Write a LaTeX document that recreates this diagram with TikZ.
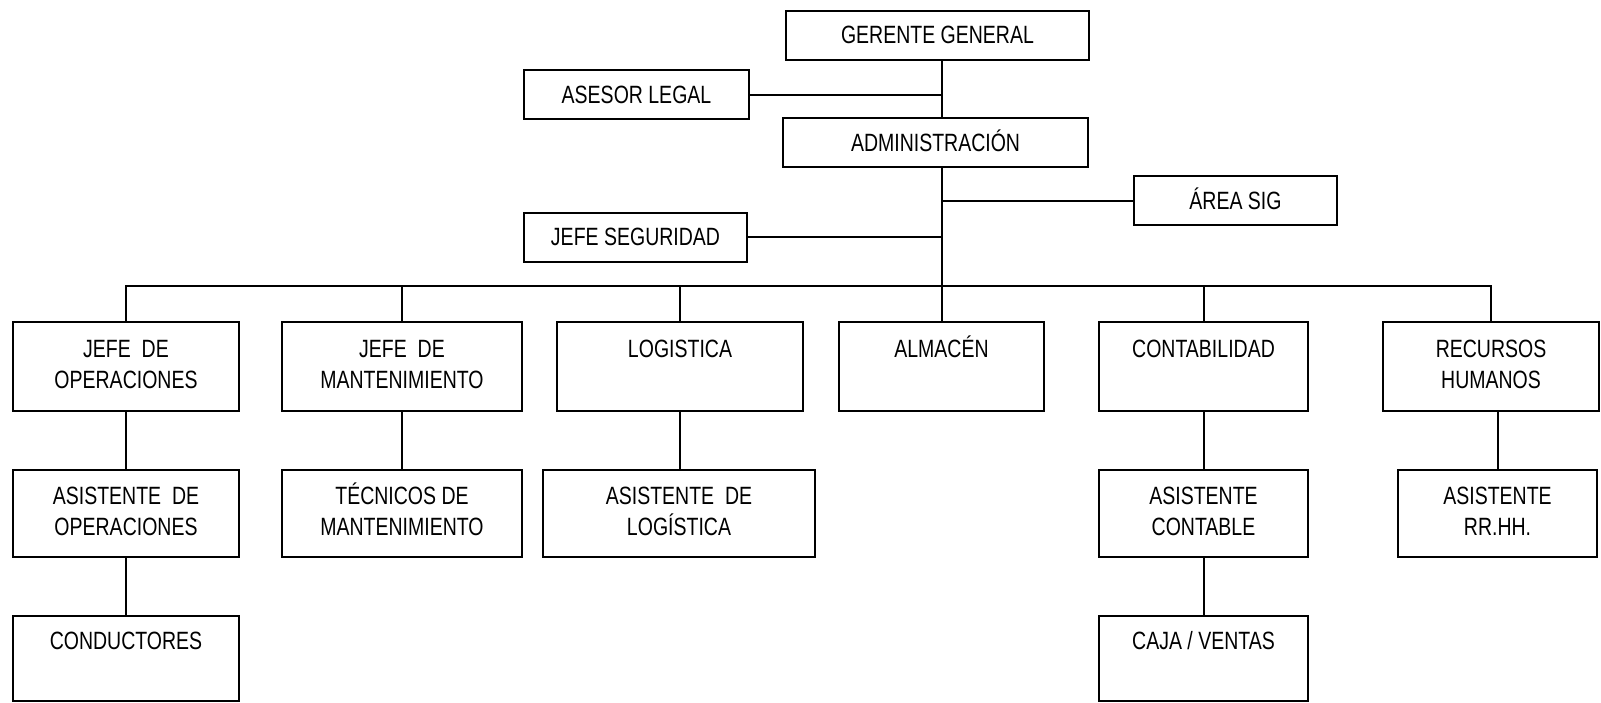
\documentclass[tikz,border=0pt]{standalone}
\usepackage{fontspec}
\setmainfont{Liberation Sans}[FakeStretch=0.78]
\usepackage{tikz}

\begin{document}
\begin{tikzpicture}[x=1pt, y=-1pt, line width=2pt,
    font={\fontsize{25}{31}\selectfont},
    jefe/.style={draw, minimum width=#1, minimum height=49pt, inner sep=0pt,
        text height=17pt, text depth=0pt},
    area/.style 2 args={draw, minimum width=#1, minimum height=#2, inner sep=0pt,
        align=center}]
    % Fondo
    \fill[white] (0,0) rectangle (1601,702);
    \useasboundingbox (0,0) rectangle (1601,702);

    % Gerencia y staff
    \node[jefe=303pt] (gg) at (937.5,35) {GERENTE GENERAL};
    \node[jefe=225pt] (asesor) at (636.5,94.5) {ASESOR LEGAL};
    \node[jefe=305pt] (adm) at (935.5,142.5) {ADMINISTRACIÓN};
    \node[jefe=203pt] (sig) at (1235.5,200.5) {ÁREA SIG};
    \node[jefe=223pt] (seg) at (635.5,237) {JEFE SEGURIDAD};

    % Primer nivel
    \node[area={226pt}{89pt}] (op) at (126,366.5) {\strut JEFE~ DE\\\strut OPERACIONES};
    \node[area={240pt}{89pt}] (mant) at (402,366.5) {\strut JEFE~ DE\\\strut MANTENIMIENTO};
    \node[area={246pt}{89pt}] (log) at (680,366.5) {\strut LOGISTICA\\\strut};
    \node[area={205pt}{89pt}] (alm) at (941.5,366.5) {\strut ALMACÉN\\\strut};
    \node[area={209pt}{89pt}] (cont) at (1203.5,366.5) {\strut CONTABILIDAD\\\strut};
    \node[area={216pt}{89pt}] (rh) at (1491,366.5) {\strut RECURSOS\\\strut HUMANOS};

    % Segundo nivel
    \node[area={226pt}{87pt}] (aop) at (126,513.5) {\strut ASISTENTE~ DE\\\strut OPERACIONES};
    \node[area={240pt}{87pt}] (tec) at (402,513.5) {\strut TÉCNICOS DE\\\strut MANTENIMIENTO};
    \node[area={272pt}{87pt}] (alog) at (679,513.5) {\strut ASISTENTE~ DE\\\strut LOGÍSTICA};
    \node[area={209pt}{87pt}] (acont) at (1203.5,513.5) {\strut ASISTENTE\\\strut CONTABLE};
    \node[area={199pt}{87pt}] (arh) at (1497.5,513.5) {\strut ASISTENTE\\\strut RR.HH.};

    % Tercer nivel
    \node[area={226pt}{85pt}] (cond) at (126,658.5) {\strut CONDUCTORES\\\strut};
    \node[area={209pt}{85pt}] (caja) at (1203.5,658.5) {\strut CAJA / VENTAS\\\strut};

    % Linea principal
    \draw (gg.south -| alm.north) -- (adm.north -| alm.north);
    \draw (adm.south -| alm.north) -- (alm.north);
    \draw (asesor.east) -- (asesor.east -| alm.north);
    \draw (sig.west) -- (sig.west -| alm.north);
    \draw (seg.east) -- (seg.east -| alm.north);

    % Barra de areas
    \coordinate (bus) at (0,286);
    \draw (op.north) |- (rh.north |- bus) -- (rh.north);
    \foreach \n in {mant,log,cont}
        \draw (\n.north) -- (\n.north |- bus);

    % Dependencias
    \draw (op.south) -- (aop.north);
    \draw (aop.south) -- (cond.north);
    \draw (mant.south) -- (tec.north);
    \draw (log.south) -- (alog.north -| log.south);
    \draw (cont.south) -- (acont.north);
    \draw (acont.south) -- (caja.north);
    \draw (arh.north) -- (arh.north |- rh.south);
\end{tikzpicture}
\end{document}
